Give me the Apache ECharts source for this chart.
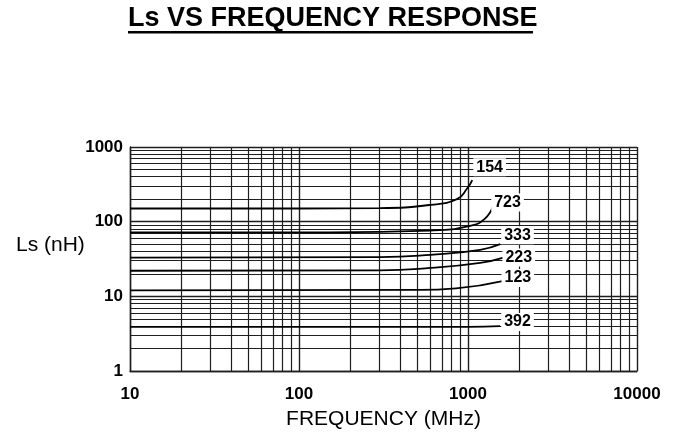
<!DOCTYPE html>
<html>
<head>
<meta charset="utf-8">
<script src="https://cdn.jsdelivr.net/npm/echarts@6/dist/echarts.min.js"></script>
<style>
  html, body { margin: 0; padding: 0; background: #fff; }
  #chart { width: 675px; height: 435px; }
</style>
</head>
<body>
<div id="chart"></div>
<script>
// 曲线数据 [频率 MHz, Ls nH]
var c154 = [[10, 150], [100, 150], [300, 152], [600, 168], [860, 200], [990, 280], [1060, 360]];
var c723 = [[10, 72], [150, 72], [600, 76], [1030, 88], [1260, 110], [1410, 165]];
var c333 = [[10, 33], [300, 33.5], [600, 36], [1180, 42], [1550, 50]];
var c223 = [[10, 22], [300, 22.3], [600, 24], [1180, 28], [1620, 33]];
var c123 = [[10, 12], [500, 12.2], [850, 12.8], [1600, 16]];
var c392 = [[10, 3.9], [1000, 3.9], [1550, 4.0]];

var seriesNames = ['154', '723', '333', '223', '123', '392'];
var seriesData = [c154, c723, c333, c223, c123, c392];
// 标签偏移
var labelOffsets = [[0, -13], [-3, -3], [0, -9], [-2, 0], [-2, -3], [0, -4]];

// 网格次线
var xMinor = [20, 30, 40, 50, 60, 70, 80, 90,
              200, 300, 400, 500, 600, 700, 800, 900,
              2000, 3000, 4000, 5000, 6000, 7000, 8000, 9000];
var yMinor = [2, 3, 4, 5, 6, 7, 8, 9,
              20, 30, 40, 50, 60, 70, 80, 90,
              200, 300, 400, 500, 600, 700, 800, 900];

var fontFam = '"Liberation Sans", Arial, sans-serif';
var gridColor = '#1e1e1e';

var chart = echarts.init(document.getElementById('chart'));

var series = seriesData.map(function (d, i) {
    return {
        name: seriesNames[i],
        type: 'line',
        data: d,
        smooth: true,
        showSymbol: false,
        symbol: 'none',
        silent: true,
        z: 5,
        lineStyle: { color: '#000', width: 1.8 },
        endLabel: {
            show: true,
            formatter: seriesNames[i],
            distance: 1,
            offset: labelOffsets[i],
            color: '#000',
            fontFamily: fontFam,
            fontWeight: 'bold',
            fontSize: 16,
            backgroundColor: '#fff',
            padding: [1, 3]
        }
    };
});

// 次网格线
series.push({
    name: 'grid',
    type: 'line',
    data: [[10, 1]],
    symbol: 'none',
    silent: true,
    z: 1,
    lineStyle: { width: 0 },
    markLine: {
        silent: true,
        symbol: 'none',
        animation: false,
        label: { show: false },
        lineStyle: { color: gridColor, width: 1.2, type: 'solid' },
        data: xMinor.map(function (v) { return { xAxis: v }; })
            .concat(yMinor.map(function (v) { return { yAxis: v }; }))
    }
});

var option = {
    animation: false,
    title: {
        text: 'Ls VS FREQUENCY RESPONSE',
        left: 128,
        top: 5,
        padding: 0,
        textStyle: { fontFamily: fontFam, fontWeight: 'bold', fontSize: 27, color: '#000' }
    },
    graphic: [
        { type: 'rect', shape: { x: 128, y: 31, width: 405, height: 2.5 }, style: { fill: '#000' } },
        {
            type: 'text', left: 16, top: 235,
            style: { text: 'Ls (nH)', fontFamily: fontFam, fontSize: 21, fill: '#000' }
        }
    ],
    grid: { left: 130, right: 38, top: 147, bottom: 57, containLabel: false },
    xAxis: {
        type: 'log',
        logBase: 10,
        min: 10,
        max: 10000,
        name: 'FREQUENCY (MHz)',
        nameLocation: 'middle',
        nameGap: 38,
        nameTextStyle: { fontFamily: fontFam, fontSize: 21, color: '#000' },
        axisLine: { show: true, lineStyle: { color: gridColor, width: 1.4 } },
        axisTick: { show: false },
        axisLabel: {
            margin: 15,
            fontFamily: fontFam,
            fontWeight: 'bold',
            fontSize: 17,
            color: '#000',
            formatter: function (v) { return String(Math.round(v)); }
        },
        splitLine: { show: true, lineStyle: { color: gridColor, width: 1.4 } }
    },
    yAxis: {
        type: 'log',
        logBase: 10,
        min: 1,
        max: 1000,
        axisLine: { show: true, lineStyle: { color: gridColor, width: 1.4 } },
        axisTick: { show: false },
        axisLabel: {
            margin: 7,
            fontFamily: fontFam,
            fontWeight: 'bold',
            fontSize: 17,
            color: '#000',
            formatter: function (v) { return String(Math.round(v)); }
        },
        splitLine: { show: true, lineStyle: { color: gridColor, width: 1.4 } }
    },
    series: series
};

chart.setOption(option);
</script>
</body>
</html>
